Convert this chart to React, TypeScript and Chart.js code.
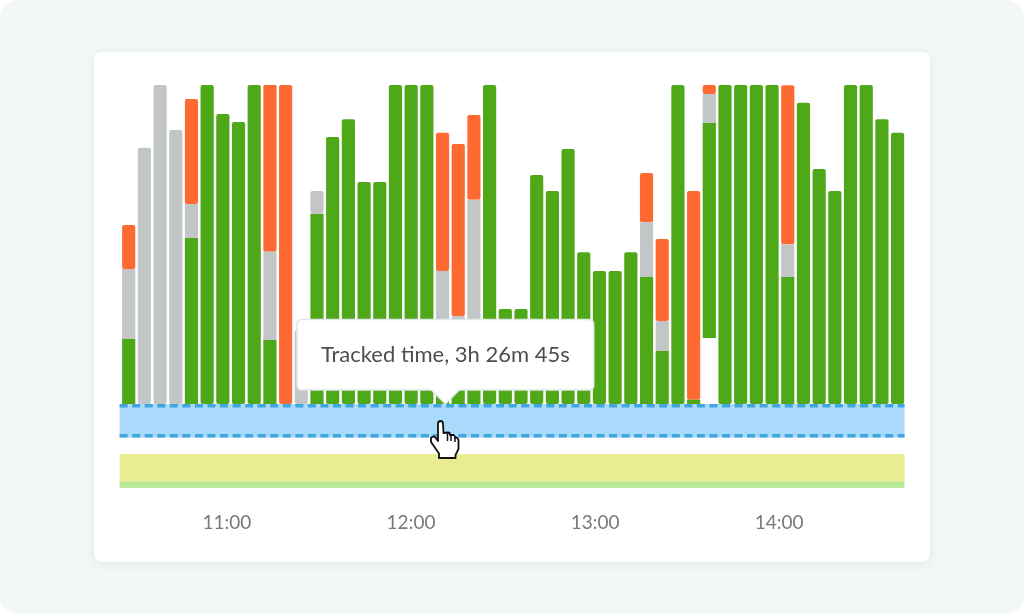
import React, { useEffect, useRef } from "react";
import { Chart, registerables, Tooltip } from "chart.js";

Chart.register(...registerables);

// Activity per time slot, percent of slot
const slots = Array.from({ length: 50 }, (_, i) => `slot ${i + 1}`);
const absent = [0,0,0,0,0,0,0,0,0,0,0,0,0,0,0,0,0,0,0,0,0,0,0,0,0,0,0,0,0,0,0,0,0,0,0,0,0,20.7,0,0,0,0,0,0,0,0,0,0,0,0];
const productive = [20.4,0,0,0,52,100,90.9,88.4,100,20.1,0,0,59.6,83.7,89.3,69.6,69.6,100,100,100,24.8,25.1,25.1,100,29.8,29.8,71.8,66.8,79.9,47.6,41.7,41.7,47.6,39.8,16.6,100,1.3,67.4,100,100,100,100,39.8,94.4,73.7,66.8,100,100,89.3,85];
const neutral = [21.9,80.3,100,85.9,10.7,0,0,0,0,27.6,0,23.2,7.2,0,0,0,0,0,0,0,16.9,2.5,38.9,0,0,0,0,0,0,0,0,0,0,17.2,9.4,0,0,9.1,0,0,0,0,10.3,0,0,0,0,0,0,0];
const distracting = [13.8,0,0,0,32.9,0,0,0,0,52.4,100,0,0,0,0,0,0,0,0,0,43.3,53.9,26.6,0,0,0,0,0,0,0,0,0,0,15.4,25.7,0,65.5,2.8,0,0,0,0,49.8,0,0,0,0,0,0,0];

// Time axis, minutes since midnight
const hourTicks = [660, 720, 780, 840];
const timeRange = [625.4, 881.2];
const bandTimeRange = [625, 880.9];
const tooltipTime = 731.2;
const tooltipText = "Tracked time, 3h 26m 45s";

// Lower rows, in the same vertical units as the bars
const selectionRow = [-10.5, 0];
const plannedRow = [-24.4, -15.7];
const plannedBase = [-26.3, -24.4];
const yRange = [-26.33, 100];

const GREEN = "#4fa818";
const GREY = "#c3c6c7";
const ORANGE = "#ff6a33";

const bandsPlugin = {
  id: "bands",
  afterDatasetsDraw(chart: any) {
    const { ctx, scales } = chart;
    const x0 = scales.time.getPixelForValue(bandTimeRange[0]);
    const x1 = scales.time.getPixelForValue(bandTimeRange[1]);
    const fill = (r: number[], c: string) => {
      const a = scales.y.getPixelForValue(r[1]);
      const b = scales.y.getPixelForValue(r[0]);
      ctx.fillStyle = c;
      ctx.fillRect(x0, a, x1 - x0, b - a);
      return [a, b];
    };
    const [a, b] = fill(selectionRow, "#a9d9fb");
    fill(plannedRow, "#e9ec90");
    fill(plannedBase, "#b8e996");
    ctx.save();
    ctx.strokeStyle = "#41a6df";
    ctx.lineWidth = 3.5;
    ctx.setLineDash([8, 4.55]);
    [a + 1.75, b - 1.75].forEach((y: number) => {
      ctx.beginPath();
      ctx.moveTo(x0, y);
      ctx.lineTo(x1, y);
      ctx.stroke();
    });
    ctx.restore();
  },
};

(Tooltip.positioners as any).fixedPoint = function (this: any) {
  const { scales } = this.chart;
  return { x: scales.time.getPixelForValue(tooltipTime), y: scales.y.getPixelForValue(0) };
};

export default function App() {
  const ref = useRef<HTMLCanvasElement>(null);
  useEffect(() => {
    const bar = { stack: "a", barPercentage: 0.84, categoryPercentage: 1, borderRadius: 2, borderSkipped: false, borderWidth: 0 };
    const chart = new Chart(ref.current!, {
      type: "bar",
      data: {
        labels: slots,
        datasets: [
          { ...bar, label: "Absent", data: absent, backgroundColor: "rgba(0,0,0,0)", borderRadius: 0 },
          { ...bar, label: "Productive", data: productive, backgroundColor: GREEN },
          { ...bar, label: "Neutral", data: neutral, backgroundColor: GREY },
          { ...bar, label: "Distracting", data: distracting, backgroundColor: ORANGE },
        ],
      },
      options: {
        responsive: false,
        animation: false,
        events: [],
        layout: { padding: { left: 120.85, right: 118.55, top: 85, bottom: 76 } },
        scales: {
          x: { display: false, stacked: true },
          y: { display: false, stacked: true, min: yRange[0], max: yRange[1] },
          time: {
            type: "linear",
            position: "bottom",
            bounds: "data",
            offset: false,
            min: timeRange[0],
            max: timeRange[1],
            grid: { display: false, drawTicks: false, offset: false },
            border: { display: false },
            afterBuildTicks: (s: any) => { s.ticks = hourTicks.map((value) => ({ value })); },
            afterFit: (s: any) => { s.height = 50; },
            ticks: {
              padding: 23,
              maxRotation: 0,
              autoSkip: false,
              color: "#777a7c",
              font: { family: "Lato", size: 19 },
              callback: (v: any) => `${Math.floor(v / 60)}:${String(v % 60).padStart(2, "0")}`,
            },
          },
        },
        plugins: {
          legend: { display: false },
          tooltip: {
            enabled: true,
            position: "fixedPoint" as any,
            xAlign: "center",
            yAlign: "bottom",
            backgroundColor: "#ffffff",
            borderColor: "#e3e6e6",
            borderWidth: 1.5,
            cornerRadius: 5,
            caretSize: 14,
            caretPadding: 0,
            displayColors: false,
            padding: { left: 24, right: 24, top: 22, bottom: 22 },
            bodyColor: "#4a4f53",
            bodyFont: { family: "Lato", size: 22 },
            callbacks: { title: () => [], label: () => tooltipText },
          },
        },
      },
      plugins: [bandsPlugin],
    } as any);
    chart.tooltip!.setActiveElements([{ datasetIndex: 1, index: 20 }], { x: 0, y: 0 });
    chart.update();
    return () => chart.destroy();
  }, []);

  return (
    <div style={{ position: "absolute", left: 0, top: 0, width: 1024, height: 614, overflow: "hidden", background: "#fff" }}>
      <div style={{ position: "absolute", inset: 0, background: "#f3f8f5", borderRadius: 18 }} />
      <div style={{ position: "absolute", left: 94, top: 52, width: 836, height: 510, background: "#fff", borderRadius: 8, boxShadow: "0 2px 12px rgba(120,140,130,0.14)" }} />
      <canvas ref={ref} width={1024} height={614} style={{ position: "absolute", left: 0, top: 0, width: 1024, height: 614 }} />
      <svg width={1024} height={614} style={{ position: "absolute", left: 0, top: 0, pointerEvents: "none" }}>
        <path
          d="M438 424 Q438 421 440.5 421 Q443 421 443 424 L443.5 433 L448 432.5 Q450 432.5 450 435 L453.5 435 Q455 435.5 455 437.5 L456.5 437.5 Q458.5 438 458.5 441 L458.5 449 L455.5 455 L455.5 458 L439 458 L439 453.5 L431 442 L431 438 Q433 435.5 435 437 L438 441 Z"
          fill="#fff" stroke="#111" strokeWidth={1.8} strokeLinejoin="round"
        />
        <path d="M447.5 433 L447.5 441 M451 435 L451 441 M455 438 L455 442" stroke="#111" strokeWidth={1.5} fill="none" />
      </svg>
    </div>
  );
}
